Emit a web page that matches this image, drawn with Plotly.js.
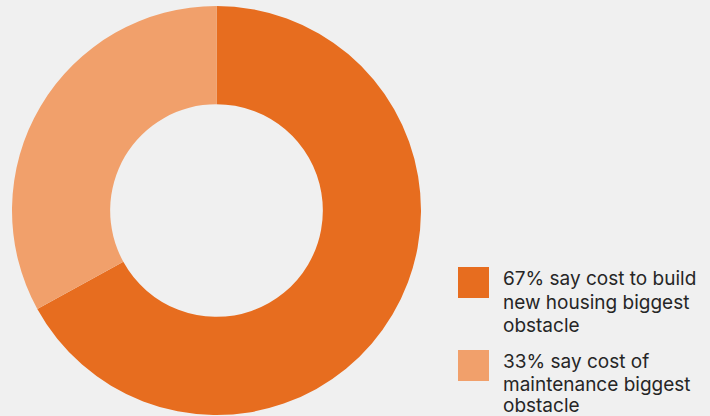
<!DOCTYPE html>
<html>
<head>
<meta charset="utf-8">
<script src="https://cdn.plot.ly/plotly-3.0.1.min.js"></script>
<style>html,body{margin:0;padding:0;background:#f0f0f0;}#chart{width:710px;height:416px;}</style>
</head>
<body>
<div id="chart"></div>
<script>
const labels = ["67% say cost to build new housing biggest obstacle", "33% say cost of maintenance biggest obstacle"];
const labelLines = [
  ["67% say cost to build", "new housing biggest", "obstacle"],
  ["33% say cost of", "maintenance biggest", "obstacle"]
];
const values = [67, 33];
const colors = ["#E76D1F", "#F1A06B"];

const W = 710, H = 416;
const px = x => x / W;
const py = y => 1 - y / H;

const trace = {
  type: "pie",
  labels: labels,
  values: values,
  hole: 0.52,
  sort: false,
  direction: "clockwise",
  rotation: 0,
  textinfo: "none",
  hoverinfo: "label",
  marker: { colors: colors, line: { width: 0 } },
  domain: { x: [px(12), px(421)], y: [py(415), py(6)] },
  showlegend: false
};

const shapes = [];
const annotations = [];
const boxTop = [267, 350];
const lineCenter = [[278, 302, 325], [361, 384, 405]];
labels.forEach((lab, i) => {
  shapes.push({
    type: "rect", xref: "paper", yref: "paper",
    x0: px(458), x1: px(489), y0: py(boxTop[i] + 31), y1: py(boxTop[i]),
    fillcolor: colors[i], line: { width: 0 }
  });
  labelLines[i].forEach((ln, j) => {
    annotations.push({
      xref: "paper", yref: "paper", x: px(501), y: py(lineCenter[i][j]),
      xanchor: "left", yanchor: "middle", showarrow: false,
      text: ln, font: { family: "Inter, Lato, sans-serif", size: 19, color: "#262626" }
    });
  });
});

Plotly.newPlot("chart", [trace], {
  width: W, height: H,
  margin: { l: 0, r: 0, t: 0, b: 0 },
  paper_bgcolor: "#f0f0f0",
  plot_bgcolor: "#f0f0f0",
  showlegend: false,
  shapes: shapes,
  annotations: annotations
}, { displayModeBar: false, staticPlot: true });
</script>
</body>
</html>
